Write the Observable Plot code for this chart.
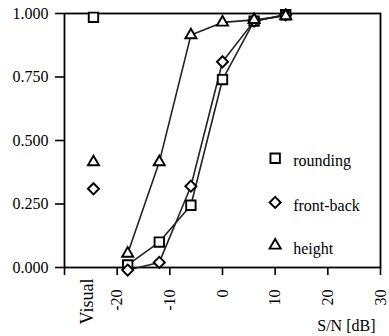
<!DOCTYPE html>
<html>
<head>
<meta charset="utf-8">
<script src="https://cdn.jsdelivr.net/npm/d3@7"></script>
<script src="https://cdn.jsdelivr.net/npm/@observablehq/plot@0.6"></script>
<style>
  html, body { margin: 0; padding: 0; background: #fff; }
  #chart svg { display: block; }
  #chart svg, #chart svg text { font-family: "Liberation Serif", "Times New Roman", "DejaVu Serif", serif !important; }
</style>
</head>
<body>
<div id="chart"></div>
<script>
// S/N levels in dB
const snr = [-18, -12, -6, 0, 6, 12];
// proportion correct per series
const rounding  = [0.01, 0.10, 0.245, 0.74, 0.97, 0.995];
const frontBack = [-0.01, 0.02, 0.32, 0.81, 0.97, 0.995];
const heightS   = [0.055, 0.415, 0.915, 0.965, 0.975, 0.99];
// "Visual" condition
const visualX = -24.5;
const visualLabel = "Visual";
const visualRounding = 0.985;
const visualFrontBack = 0.31;
const visualHeight = 0.415;
// axes
const yTicks = [0, 0.25, 0.5, 0.75, 1];
const xTicks = [-30, -20, -10, 0, 10, 20, 30];
const xLabels = [-20, -10, 0, 10, 20, 30];
const xTitle = "S/N [dB]";
// legend
const seriesNames = ["rounding", "front-back", "height"];
const legendX = 10;
const legendY = [0.43, 0.256, 0.087];

const symbols = ["square2", "diamond2", "triangle2"];
const radii = [6, 5, 5.3];
const seriesVals = [rounding, frontBack, heightS];
const visualVals = [visualRounding, visualFrontBack, visualHeight];

const lineData = seriesVals.map(vals => snr.map((x, i) => ({x, y: vals[i]})));

const marks = [
  Plot.frame({stroke: "black", strokeWidth: 1.8}),
  Plot.axisY({ticks: yTicks, tickFormat: d3.format(".3f"), tickSize: 9, tickPadding: 7, fontSize: 16, strokeWidth: 1.6, label: null}),
  Plot.axisX({ticks: xTicks, tickSize: 8, tickFormat: () => "", strokeWidth: 1.6, label: null}),
  Plot.text(xLabels, {x: d => d, text: d => String(d), frameAnchor: "bottom", dy: 22, dx: 5, rotate: -90, textAnchor: "end", fontSize: 16}),
  Plot.text([visualLabel], {x: visualX, text: d => d, frameAnchor: "bottom", dy: 11, rotate: -90, textAnchor: "end", fontSize: 18}),
  Plot.text([xTitle], {frameAnchor: "bottom-right", text: d => d, dy: 63, dx: -5, textAnchor: "end", fontSize: 16})
];

lineData.forEach(ld => {
  marks.push(Plot.line(ld, {x: "x", y: "y", stroke: "#222", strokeWidth: 1.6}));
});
seriesVals.forEach((vals, k) => {
  const pts = snr.map((x, i) => ({x, y: vals[i]}));
  pts.push({x: visualX, y: visualVals[k]});
  marks.push(Plot.dot(pts, {x: "x", y: "y", symbol: () => symbols[k], r: radii[k], fill: "white", stroke: "black", strokeWidth: 1.9}));
});
// legend
seriesNames.forEach((name, k) => {
  marks.push(Plot.dot([name], {x: () => legendX, y: () => legendY[k], symbol: () => symbols[k], r: radii[k], fill: "white", stroke: "black", strokeWidth: 1.9}));
  marks.push(Plot.text([name], {x: () => legendX, y: () => legendY[k], text: d => d, dx: 18, dy: 3, textAnchor: "start", fontSize: 16}));
});

const chart = Plot.plot({
  width: 389,
  height: 336,
  marginLeft: 64,
  marginRight: 9,
  marginTop: 13,
  marginBottom: 69,
  x: {domain: [-30, 30]},
  y: {domain: [0, 1]},
  symbol: {type: "identity"},
  style: {fontFamily: "Liberation Serif, serif", fontSize: "16px", background: "white", color: "black", overflow: "visible"},
  marks
});
document.getElementById("chart").appendChild(chart);
</script>
</body>
</html>
